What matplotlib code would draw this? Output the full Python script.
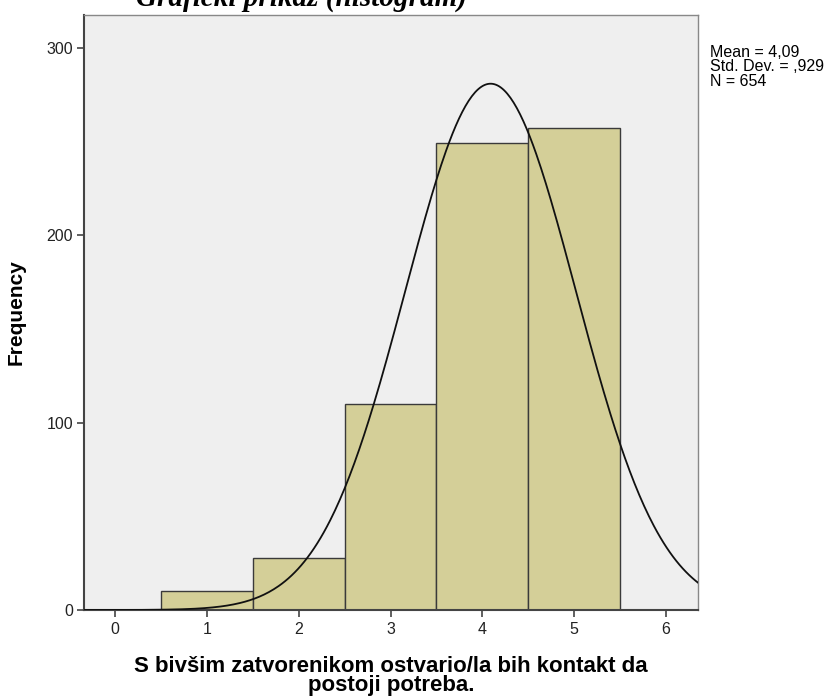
import numpy as np
import matplotlib.pyplot as plt

plt.rcParams['font.family'] = ['Liberation Sans', 'DejaVu Sans']

# histogram data (value -> count)
values = [1, 2, 3, 4, 5]
counts = [10, 28, 110, 249, 257]
mean = 4.09
std = 0.929
n = 654

fig = plt.figure(figsize=(8.27, 6.99), dpi=100)
ax = fig.add_axes([84 / 827, 1 - 610 / 699, (698 - 84) / 827, (610 - 15) / 699])
ax.set_facecolor('#efefef')

ax.bar(values, counts, width=1.0, color='#d4cf98', edgecolor='#3a3a3a', linewidth=1.0, zorder=2)

# normal curve scaled to counts
xs = np.linspace(-0.5, 6.5, 400)
pdf = n * 1.0 / (std * np.sqrt(2 * np.pi)) * np.exp(-0.5 * ((xs - mean) / std) ** 2)
ax.plot(xs, pdf, color='#111111', linewidth=1.3, zorder=3)

ax.set_xlim(-0.34, 6.35)
ax.set_ylim(0, 301.5 * 595 / 565)
ax.set_xticks(range(0, 7))
ax.set_yticks([0, 100, 200, 300])
ax.tick_params(axis='both', direction='out', length=5, width=1.2, colors='#444444',
               labelsize=11.5, labelcolor='#222222')
ax.tick_params(axis='x', pad=4)
ax.tick_params(axis='y', pad=3)
for s in ax.spines.values():
    s.set_color('#888888')
    s.set_linewidth(1.0)
ax.spines['left'].set_color('#444444')
ax.spines['bottom'].set_color('#444444')
ax.spines['left'].set_linewidth(1.5)
ax.spines['bottom'].set_linewidth(1.5)

ax.set_ylabel('Frequency', fontsize=15, fontweight='bold')
ax.yaxis.set_label_coords(-58 / 614, 0.5)

fig.text(391 / 827, 1 - 656 / 699, 'S bivšim zatvorenikom ostvario/la bih kontakt da\npostoji potreba.',
         fontsize=16, fontweight='bold', ha='center', va='top', linespacing=0.9)

fig.text(710 / 827, 1 - 45 / 699, 'Mean = 4,09\nStd. Dev. = ,929\nN = 654',
         fontsize=11.5, va='top', ha='left', linespacing=0.95)

fig.text(301 / 827, 1 - 6 / 699, 'Grafički prikaz (histogram)', family='Liberation Serif',
         fontsize=21, fontweight='bold', style='italic', ha='center', va='baseline')

fig.savefig('out.png', dpi=100, facecolor='white')
